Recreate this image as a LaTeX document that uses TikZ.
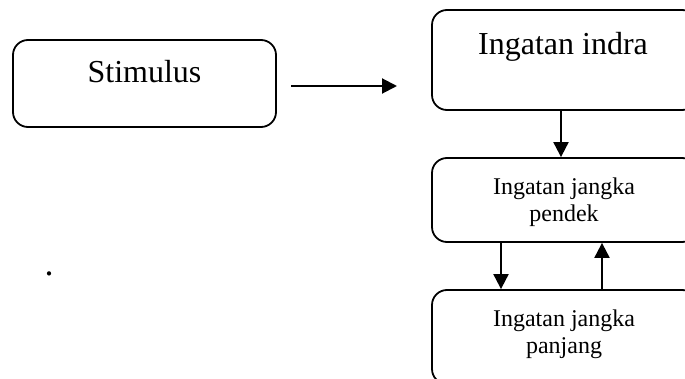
\documentclass[tikz,border=0pt]{standalone}
\usepackage{fontspec}
\setmainfont{Liberation Serif}
\usetikzlibrary{arrows.meta}
\begin{document}
\begin{tikzpicture}[x=1pt,y=-1pt,
  box/.style={draw, line width=1.8pt, rounded corners=15pt, inner sep=0pt},
  bigtxt/.style={anchor=base, inner sep=0pt, font=\fontsize{32}{38}\selectfont},
  smalltxt/.style={anchor=base, inner sep=0pt, font=\fontsize{24}{27}\selectfont},
  arr/.style={line width=2pt, -{Triangle[length=15pt,width=15pt]}}]
\useasboundingbox (0,0) rectangle (685,379);
\begin{scope}
\clip (0,0) rectangle (685,379);
\node[box, minimum width=263pt, minimum height=87pt] (stim) at (144.5,83.5) {};
\node[box, minimum width=265pt, minimum height=100pt] (indra) at (564.5,60) {};
\node[box, minimum width=265pt, minimum height=84pt] (pendek) at (564.5,200) {};
\node[box, minimum width=265pt, minimum height=94pt] (panjang) at (564.5,337) {};
\end{scope}
\node[bigtxt] (tstim) at (144.5,83) {Stimulus};
\node[bigtxt] (tindra) at (563,55) {Ingatan indra};
\node[smalltxt] (tp1) at (564,195) {Ingatan jangka};
\node[smalltxt] (tp2) at (564,221.7) {pendek};
\node[smalltxt] (tq1) at (564,326.7) {Ingatan jangka};
\node[smalltxt] (tq2) at (564,353.3) {panjang};
\node[anchor=base, inner sep=0pt, font=\fontsize{36}{40}\selectfont] (dot) at (49,275.5) {.};
\coordinate (h1) at (291,86);
\coordinate (h2) at (397,86);
\draw[arr] (h1) -- (h2);
\draw[arr] (indra.south -| 561,0) -- (pendek.north -| 561,0);
\draw[arr] (pendek.south -| 501,0) -- (panjang.north -| 501,0);
\draw[arr] (panjang.north -| 602,0) -- (pendek.south -| 602,0);
\end{tikzpicture}
\end{document}
